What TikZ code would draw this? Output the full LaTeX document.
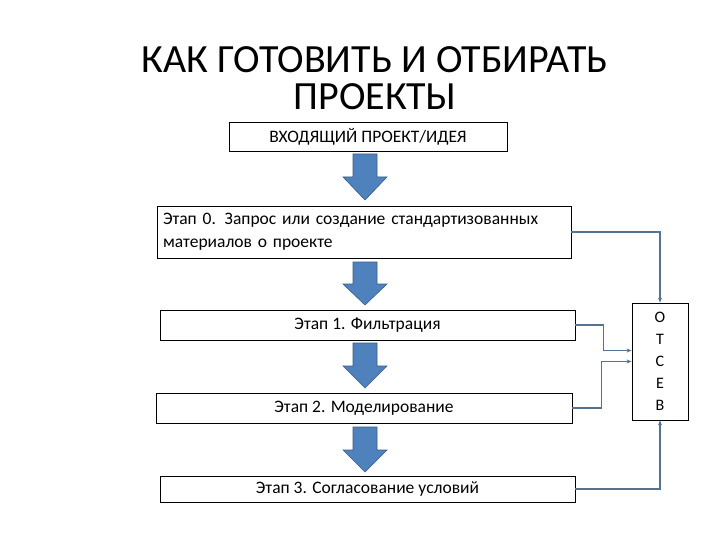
\documentclass[tikz,border=0pt]{standalone}
\usepackage{fontspec}
\setmainfont{Carlito}
\usetikzlibrary{arrows.meta}
\definecolor{arrowblue}{RGB}{79,129,189}
\definecolor{arrowedge}{RGB}{56,93,138}
\definecolor{linkgray}{RGB}{84,115,145}

\tikzset{
  stagebox/.style={draw=black, line width=0.8pt, inner sep=5pt, font=\fontsize{17.5}{23}\selectfont},
  bigarrow/.style={fill=arrowblue, draw=arrowedge, line width=0.6pt},
  link/.style={draw=linkgray, line width=1.4pt, -{Stealth[length=5pt,width=4pt]}},
}

\begin{document}
\begin{tikzpicture}[x=1pt,y=-1pt]
  \useasboundingbox[fill=white] (0,0) rectangle (720,540);

  %Titulo
  \node[align=center, font=\fontsize{40}{37}\selectfont] (title) at (375,78)
    {КАК ГОТОВИТЬ И ОТБИРАТЬ\\ПРОЕКТЫ};

  %Etapas
  \node[stagebox, minimum width=278pt, minimum height=29pt] (idea) at (368,136.5) {ВХОДЯЩИЙ ПРОЕКТ/ИДЕЯ};
  \node[stagebox, minimum width=414pt, minimum height=52pt, text width=402pt, align=left] (s0) at (364,232)
    {Этап 0. Запрос или создание стандартизованных\\материалов о проекте};
  \node[stagebox, minimum width=415pt, minimum height=30pt] (s1) at (367.5,325) {Этап 1. Фильтрация};
  \node[stagebox, minimum width=416pt, minimum height=30pt] (s2) at (364,408) {Этап 2. Моделирование};
  \node[stagebox, minimum width=415pt, minimum height=26pt] (s3) at (367.5,489) {Этап 3. Согласование условий};

  %Setas grandes
  \draw[bigarrow] (353,154) -- (377,154) -- (377,177) -- (387,177) -- (365,200) -- (343,177) -- (353,177) -- cycle;
  \draw[bigarrow] (353,262) -- (377,262) -- (377,284) -- (387,284) -- (365,305) -- (343,284) -- (353,284) -- cycle;
  \draw[bigarrow] (353,343) -- (377,343) -- (377,366) -- (387,366) -- (365,388) -- (343,366) -- (353,366) -- cycle;
  \draw[bigarrow] (353,427) -- (377,427) -- (377,450) -- (387,450) -- (365,472) -- (343,450) -- (353,450) -- cycle;

  %Otsev
  \node[draw=black, line width=0.8pt, minimum width=56pt, minimum height=117pt, align=center,
        font=\fontsize{16}{22}\selectfont] (otsev) at (660,361.5) {О\\Т\\С\\Е\\В};

  %Ligacoes
  \draw[link] (s0.east) -| (otsev.north);
  \draw[link] (s1.east) -- ++(28,0) |- ([yshift=11pt]otsev.west);
  \draw[link] (s2.east) -- ++(29,0) |- (otsev.west);
  \draw[link] (s3.east) -| (otsev.south);
\end{tikzpicture}
\end{document}
